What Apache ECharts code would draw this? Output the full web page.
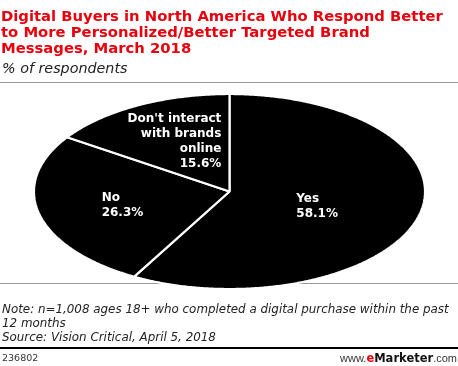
<!DOCTYPE html>
<html><head><meta charset="utf-8">
<script src="https://cdn.jsdelivr.net/npm/echarts@6/dist/echarts.min.js"></script>
<style>html,body{margin:0;padding:0;background:#fff}#c{width:458px;height:366px}</style>
</head><body><div id="c"></div>
<script>
// ---- data ----
const categories = ['Yes', 'No', "Don't interact with brands online"];
const values = [58.1, 26.3, 15.6];
const labelText = ['Yes', 'No', "Don't interact\nwith brands\nonline"];
const titleLines = ['Digital Buyers in North America Who Respond Better', 'to More Personalized/Better Targeted Brand', 'Messages, March 2018'];
const subtitle = '% of respondents';
const noteLines = ['Note: n=1,008 ages 18+ who completed a digital purchase within the past', '12 months', 'Source: Vision Critical, April 5, 2018'];
const chartId = '236802';

// ---- layout / style ----
const PIE = { cx: 229.5, cy: 191.5, rx: 195.5, ry: 97.5 };
const LABEL = { fx: 0.5, fy: 0.6, align: ['left', 'left', 'right'], nudge: [[-7, 0], [-12, 0], [-9, 1]] };
const LABEL_FONT = 'bold 12px "DejaVu Sans"';
const RED = '#e8000d';

const total = values.reduce((a, b) => a + b, 0);
const starts = values.map((v, i) => values.slice(0, i).reduce((a, b) => a + b, 0));

const ctx = document.createElement('canvas').getContext('2d');
ctx.font = LABEL_FONT;
function blockWidth(t) { return Math.max(...t.split('\n').map(s => ctx.measureText(s).width)); }

function renderItem(params, api) {
  const i = params.dataIndex;
  const v = api.value(0), s = api.value(1);
  const a0 = s / total * 2 * Math.PI, a1 = (s + v) / total * 2 * Math.PI;
  const pts = [[PIE.cx, PIE.cy]];
  const n = Math.max(2, Math.ceil((a1 - a0) / (Math.PI / 360)));
  for (let k = 0; k <= n; k++) {
    const a = a0 + (a1 - a0) * k / n;
    pts.push([PIE.cx + PIE.rx * Math.sin(a), PIE.cy - PIE.ry * Math.cos(a)]);
  }
  const mid = (a0 + a1) / 2;
  const txt = labelText[i] + '\n' + v.toFixed(1) + '%';
  const w = blockWidth(txt);
  const ccx = PIE.cx + PIE.rx * LABEL.fx * Math.sin(mid) + LABEL.nudge[i][0];
  const ccy = PIE.cy - PIE.ry * LABEL.fy * Math.cos(mid) + LABEL.nudge[i][1];
  const al = LABEL.align[i];
  const x = al === 'left' ? ccx - w / 2 : (al === 'right' ? ccx + w / 2 : ccx);
  return {
    type: 'group',
    children: [
      { type: 'polygon', shape: { points: pts }, style: { fill: '#000', stroke: '#fff', lineWidth: 2.2, lineJoin: 'bevel' } },
      { type: 'text', z2: 10, x: x, y: ccy, style: { text: txt, fill: '#fff', font: LABEL_FONT, align: al, verticalAlign: 'middle', lineHeight: 15 } }
    ]
  };
}

const chart = echarts.init(document.getElementById('c'), null, { renderer: 'canvas' });
chart.setOption({
  animation: false,
  backgroundColor: '#fff',
  series: [{
    type: 'custom',
    coordinateSystem: 'none',
    name: 'share',
    data: values.map((v, i) => ({ name: categories[i], value: [v, starts[i]] })),
    renderItem: renderItem
  }],
  graphic: [
    { type: 'text', left: 1, top: 8.5, style: { text: titleLines.join('\n'), fill: RED, font: 'bold 14.8px "DejaVu Sans"', lineHeight: 16.4 } },
    { type: 'text', left: 2, top: 62, style: { text: subtitle, fill: '#222', font: 'italic 14.3px "DejaVu Sans"' } },
    { type: 'line', shape: { x1: 0, y1: 82.5, x2: 458, y2: 82.5 }, style: { stroke: '#999', lineWidth: 1 } },
    { type: 'line', shape: { x1: 0, y1: 283.5, x2: 458, y2: 283.5 }, style: { stroke: '#999', lineWidth: 1 } },
    { type: 'text', left: 2, top: 303, style: { text: noteLines.join('\n'), fill: '#222', font: 'italic 11.9px "DejaVu Sans"', lineHeight: 13.8 } },
    { type: 'line', shape: { x1: 0, y1: 348, x2: 458, y2: 348 }, style: { stroke: '#000', lineWidth: 2.2 } },
    { type: 'text', left: 2, top: 354, style: { text: chartId, fill: '#333', font: '9.5px "DejaVu Sans"' } },
    { type: 'text', right: 1, top: 353, style: { text: '{a|www.}{e|e}{m|Marketer}{a|.com}', rich: {
      a: { fill: '#333', font: '11px "Liberation Sans"' },
      e: { fill: RED, font: 'bold 11.5px "DejaVu Sans"' },
      m: { fill: '#111', font: 'bold 11.5px "DejaVu Sans"' } } } }
  ]
});
</script>
</body></html>
